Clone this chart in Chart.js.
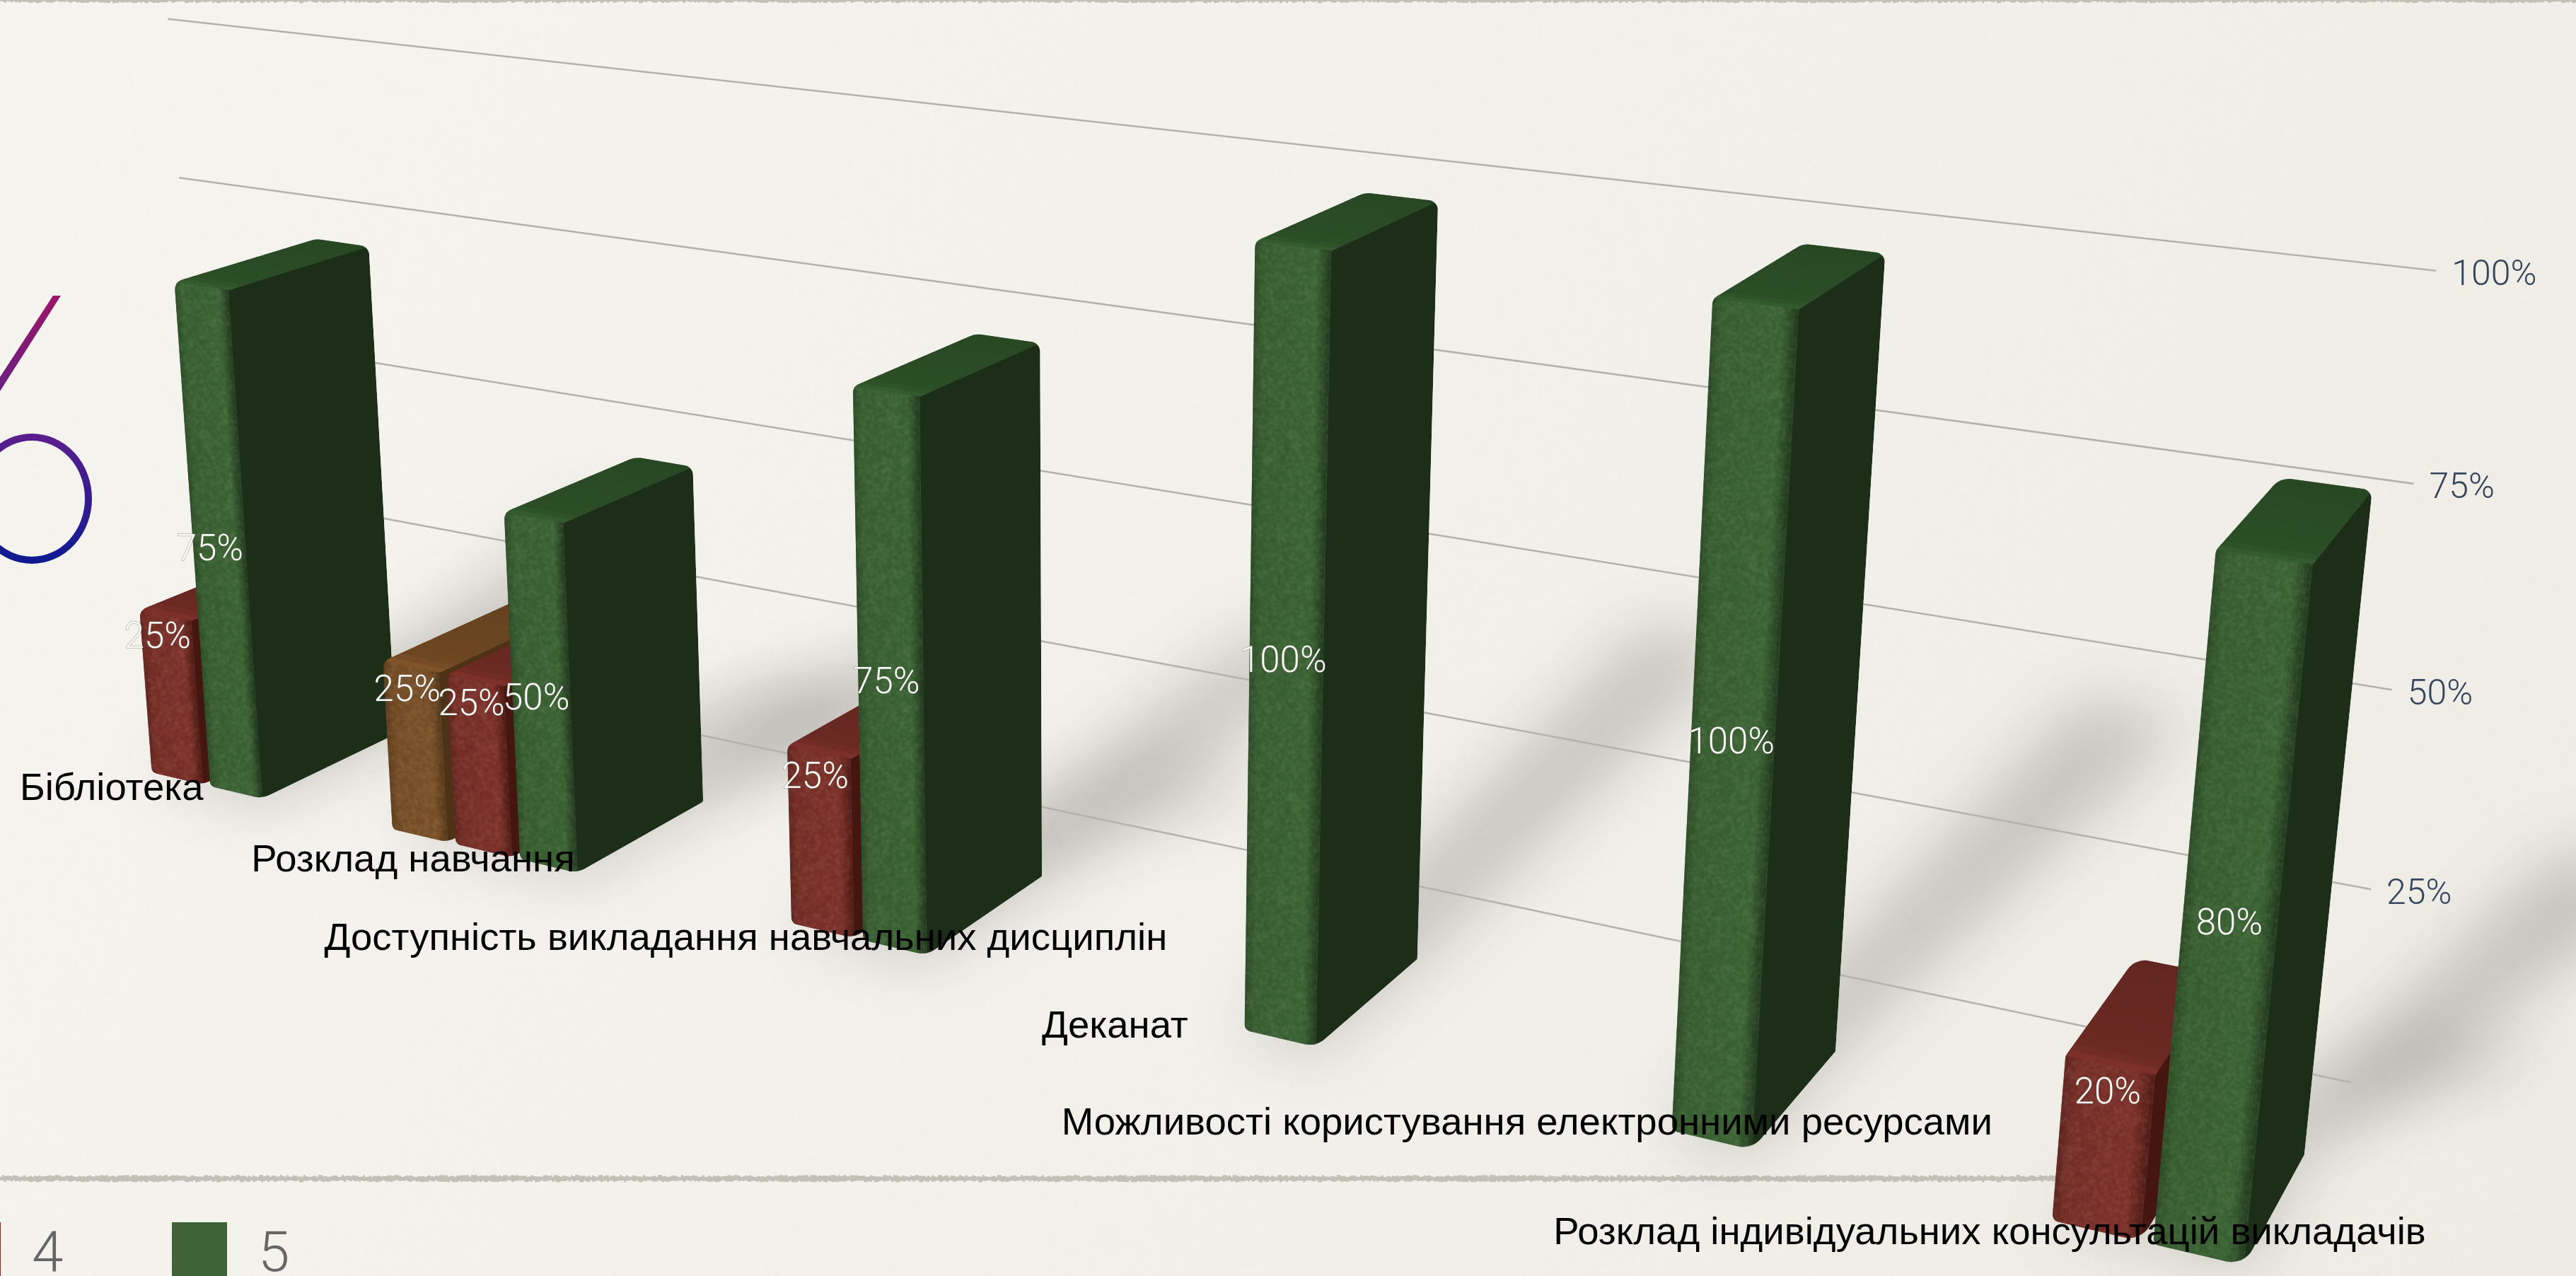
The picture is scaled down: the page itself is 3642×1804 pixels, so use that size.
<!DOCTYPE html>
<html><head><meta charset="utf-8">
<style>html,body{margin:0;padding:0;background:#f3f1ec;overflow:hidden}canvas{display:block}</style>
<script src="https://cdn.jsdelivr.net/npm/chart.js@4"></script>
</head><body><canvas id="c" width="3642" height="1804"></canvas>
<script>
const categories=["Бібліотека","Розклад навчання","Доступність викладання навчальних дисциплін","Деканат","Можливості користування електронними ресурсами","Розклад індивідуальних консультацій викладачів"];
const series1=[0,0,0,0,0,0];
const series2=[0,0,0,0,0,0];
const series3=[0,25,0,0,0,0];
const series4=[25,25,25,0,0,20];
const series5=[75,50,75,100,100,80];
const seriesNames=["1","2","3","4","5"];

// perspective camera: maps (category units, value fraction, depth) to the page
const CAM=[387.45150,-77.448916,204.96356,-28.834032,42.998975,-934.85882,-41.427396,1034.7666,-0.046398751,-0.050502103,0.043942032];
function P(X,Y,Z){const w=CAM[8]*X+CAM[9]*Y+CAM[10]*Z+1;return [(CAM[0]*X+CAM[1]*Y+CAM[2]*Z+CAM[3])/w,(CAM[4]*X+CAM[5]*Y+CAM[6]*Z+CAM[7])/w];}
const hash=n=>{const s=Math.sin(n*12.9898)*43758.5453;return s-Math.floor(s);};
const palette=[null,null,{f:[118,78,39],t:[111,72,35],s:[78,50,21]},{f:[120,47,40],t:[108,42,36],s:[69,21,15]},{f:[57,96,50],t:[44,79,39],s:[28,45,24]}];
const mix=(a,b,t)=>a.map((v,i)=>v+(b[i]-v)*t);
const css=c=>`rgb(${c.map(v=>Math.round(v)).join(",")})`;
const mul=(c,k)=>c.map(v=>Math.min(255,v*k));
function noiseCanvas(size,seed,amp,dark,scale,blur){const s0=Math.round(size/scale);const c=document.createElement('canvas');c.width=c.height=s0;const x=c.getContext('2d');const d=x.createImageData(s0,s0);for(let i=0;i<s0*s0;i++){const r=hash(i*1.37+seed);const up=r>.5;const v=up?255:(dark||0);d.data[i*4]=v;d.data[i*4+1]=v;d.data[i*4+2]=up?(dark?250:235):v;d.data[i*4+3]=Math.abs(r-.5)*2*amp*255;}x.putImageData(d,0,0);const c2=document.createElement('canvas');c2.width=c2.height=size;const y=c2.getContext('2d');y.filter=`blur(${blur}px)`;y.drawImage(c,0,0,size,size);return c2;}
function poly(ctx,p){ctx.beginPath();p.forEach((q,i)=>i?ctx.lineTo(q[0],q[1]):ctx.moveTo(q[0],q[1]));ctx.closePath();}
function rounded(ctx,p,r){const n=p.length;ctx.beginPath();const a=p[n-1],b=p[0];ctx.moveTo((a[0]+b[0])/2,(a[1]+b[1])/2);for(let i=0;i<n;i++){const q=p[i],nx=p[(i+1)%n];ctx.arcTo(q[0],q[1],nx[0],nx[1],r[i]);}ctx.closePath();}
function wobble(ctx,y,x1,h,seed){ctx.fillStyle='#c3c0b8';for(let x=0;x<x1;x+=3){const a=hash((x%480)/3+seed)*3,b=hash((x%480)/3+seed+9)*3;ctx.fillRect(x,y-h/2+a-1.5,3,h-a-b+1.5);}}
const paperTile=noiseCanvas(512,3.3,.05,150,1,1),barTile=noiseCanvas(513,7.7,.09,0,3,1);
const WALL=1.735,XA=-.015,XB=6;
const labelFrac=v=>v<=20?.175:(v<=25?.155:.527);
const plug={id:'scene',
 beforeDraw(ch){const c=ch.ctx;const g=c.createLinearGradient(0,0,3642,1804);g.addColorStop(0,'#f7f5f0');g.addColorStop(1,'#efede6');c.fillStyle=g;c.fillRect(0,0,3642,1804);c.fillStyle=c.createPattern(paperTile,'repeat');c.fillRect(0,0,3642,1804);wobble(c,1,3642,7,1);wobble(c,1667,3000,9,1);},
 beforeDatasetsDraw(ch){const c=ch.ctx;const xs=ch.scales.x,ys=ch.scales.y;const u=xs.width/categories.length;
  c.save();c.filter='blur(46px)';c.fillStyle='rgba(60,56,50,.25)';
  ch.data.datasets.forEach((ds,d)=>{ch.getDatasetMeta(d).data.forEach((el,i)=>{const v=ds.data[i];if(!v)return;const L=(el.x-el.width/2-xs.left)/u,J=(el.x+el.width/2-xs.left)/u,k=v/100;
    poly(c,[P(L,0,0),P(J,0,0),P(J,0,1),P(J+.6,.42*k,WALL),P(L+.55,.42*k,WALL)]);c.fill();});});
  c.restore();
  c.strokeStyle='#b4b2ad';c.lineWidth=2.6;ys.ticks.forEach(t=>{const k=t.value/100;const a=P(XA,k,WALL),b=P(XB,k,WALL);c.beginPath();c.moveTo(a[0],a[1]);c.lineTo(b[0],b[1]);c.stroke();});
  c.fillStyle='#36445c';c.font='300 50px Roboto';c.textAlign='left';c.textBaseline='middle';ys.ticks.forEach(t=>{if(!t.value)return;const k=t.value/100;const b=P(XB,k,WALL);c.fillText(t.label,b[0]+22,b[1]+8);});
 },
 beforeDatasetDraw(){return false;},
 afterDatasetsDraw(ch){const c=ch.ctx;const xs=ch.scales.x,ys=ch.scales.y;const u=xs.width/categories.length;const labels=[];
  for(let i=0;i<categories.length;i++){ch.data.datasets.forEach((ds,d)=>{const v=ds.data[i];if(!v)return;const el=ch.getDatasetMeta(d).data[i];const L=(el.x-el.width/2-xs.left)/u,J=(el.x+el.width/2-xs.left)/u,k=ys.getValueForPixel(el.y)/100;const pal=palette[d];
    const sil=[P(L,k,0),P(L,k,1),P(J,k,1),P(J,0,1),P(J,0,0),P(L,0,0)];
    c.save();rounded(c,sil,[14,30,14,4,34,10]);c.clip();
    const N=16;
    for(let s=0;s<N;s++){const a=s/N,b=(s+1)/N;const col=mix(pal.t,mul(pal.t,.9),a);const cc=a<.1?mix(mul(pal.t,1.15),pal.t,a/.1):col;c.fillStyle=css(cc);c.strokeStyle=css(cc);c.lineWidth=1;poly(c,[P(L,k,a),P(J,k,a),P(J,k,b),P(L,k,b)]);c.fill();c.stroke();}
    c.fillStyle=css(pal.s);poly(c,[P(J,0,0),P(J,k,0),P(J,k,1),P(J,0,1)]);c.fill();
    const prof=t=>t<.12?mix(mul(pal.f,.82),pal.f,t/.12):t<.8?mix(pal.f,mul(pal.f,1.05),(t-.12)/.68):t<.97?mix(mul(pal.f,1.05),mix(pal.f,pal.s,.7),(t-.8)/.17):mix(mix(pal.f,pal.s,.7),pal.s,(t-.97)/.03);
    const M=28;
    for(let s=0;s<M;s++){const a=s/M,b=(s+1)/M,x0=L+(J-L)*a,x1=L+(J-L)*b;const cc=prof(a);c.fillStyle=css(cc);c.strokeStyle=css(cc);c.lineWidth=1;poly(c,[P(x0,0,0),P(x1,0,0),P(x1,k,0),P(x0,k,0)]);c.fill();c.stroke();}
    c.save();poly(c,[P(L,k,0),P(J,k,0),P(J,0,0),P(L,0,0)]);c.clip();c.fillStyle=c.createPattern(barTile,'repeat');c.fillRect(0,0,3642,1804);c.restore();
    c.restore();
    const dX=-.02*Math.max(0,1-i/4.5)-(i<1?.012:0);const a=P((L+J)/2+dX,k,0),b=P((L+J)/2+dX,0,0),f=labelFrac(v);labels.push([v+'%',a[0]+(b[0]-a[0])*f,a[1]+(b[1]-a[1])*f]);
  });}
  c.font='300 51px Roboto';c.textAlign='center';c.textBaseline='middle';labels.forEach(l=>{c.lineWidth=1.5;c.strokeStyle='rgba(90,90,90,.4)';c.strokeText(l[0],l[1],l[2]);c.fillStyle='#f8f8f4';c.fillText(l[0],l[1],l[2]);});
  c.fillStyle='#000';c.font='54.5px "Liberation Sans"';
  xs.ticks.forEach((t,i)=>{const p=P(i+.605-.017*i,0,-.264+.01*i);c.fillText(categories[i],p[0],p[1]);});
  c.save();const gg=c.createLinearGradient(0,418,0,555);gg.addColorStop(0,'#9c1567');gg.addColorStop(1,'#6a2080');c.fillStyle=gg;poly(c,[[75,418],[86,418],[0,553],[0,533]]);c.fill();
  const g2=c.createLinearGradient(0,618,0,796);g2.addColorStop(0,'#5a1e8c');g2.addColorStop(1,'#0e1a90');c.strokeStyle=g2;c.lineWidth=10;c.beginPath();c.ellipse(45,705,80,87,0,0,7);c.stroke();c.restore();
  ch.data.datasets.forEach((ds,d)=>{const sx=243-320*(4-d);c.fillStyle=ds.backgroundColor;c.fillRect(sx,1728,78,80);c.fillStyle='#666';c.font='300 80px Roboto';c.textAlign='left';c.textBaseline='alphabetic';c.fillText(ds.label,sx+122,1797);});
 }};
const cols=['#7f5329','#7f5329','#7f5329','#7e2f28','#3f6236'];
const data={labels:categories,datasets:[series1,series2,series3,series4,series5].map((d,i)=>({label:seriesNames[i],data:d,backgroundColor:cols[i],categoryPercentage:1,barPercentage:.875}))};
new Chart(document.getElementById('c'),{type:'bar',data,plugins:[plug],options:{responsive:false,animation:false,layout:{padding:0},plugins:{legend:{display:false},tooltip:{enabled:false}},scales:{x:{grid:{display:false},border:{display:false},ticks:{display:false}},y:{min:0,max:100,grid:{display:false},border:{display:false},ticks:{display:false,stepSize:25,callback:v=>v+'%'}}}}});
</script></body></html>
